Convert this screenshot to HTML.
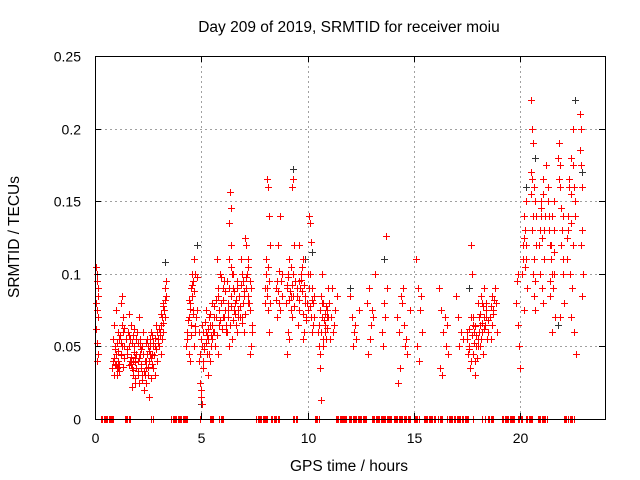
<!DOCTYPE html>
<html><head><meta charset="utf-8"><style>
body{margin:0;background:#fff;}
svg{display:block;font-family:"Liberation Sans",sans-serif;}
</style></head><body>
<svg id="chart" width="640" height="480" viewBox="0 0 640 480" xmlns="http://www.w3.org/2000/svg">
<rect width="640" height="480" fill="#fff"/>
<g id="grid"></g>
<g id="black"></g>
<g id="red"></g>
<g id="zero"></g>
<rect x="95.5" y="56.5" width="510" height="363" fill="none" stroke="#000" stroke-width="1"/>
<g id="ticks"></g>
<text x="349" y="32" font-size="15.5" text-anchor="middle">Day 209 of 2019, SRMTID for receiver moiu</text>
<text x="349" y="471" font-size="15.5" text-anchor="middle">GPS time / hours</text>
<text x="19" y="237" font-size="15.5" text-anchor="middle" transform="rotate(-90 19 237)">SRMTID / TECUs</text>
</svg>
<script>
const xTicks=[0,5,10,15,20];
const yTicks=[0,0.05,0.1,0.15,0.2,0.25];
const yTickLabels=["0","0.05","0.1","0.15","0.2","0.25"];
const redT=[.05,.08,.1,.12,.15,.06,.09,.13,.07,.11,.14,.1,
.8,.85,.9,.95,1.0,1.05,1.1,1.15,1.2,1.25,1.3,1.35,.9,1.0,1.1,1.2,1.3,.85,.95,1.05,1.15,1.25,1.35,1.0,1.1,1.2,
1.5,1.55,1.6,1.65,1.7,1.75,1.8,1.85,1.9,1.95,2.0,2.05,2.1,2.15,2.2,2.25,1.6,1.7,1.8,1.9,2.0,2.1,2.2,1.65,1.75,1.85,1.95,2.05,2.15,1.8,1.9,2.0,
2.3,2.35,2.4,2.45,2.5,2.55,2.6,2.65,2.7,2.75,2.8,2.85,2.9,2.95,2.4,2.5,2.6,2.7,2.8,2.9,2.35,2.55,2.75,2.45,2.65,
3.0,3.05,3.1,3.15,3.2,3.25,3.3,3.35,3.1,3.2,3.3,3.15,
4.3,4.35,4.4,4.45,4.5,4.55,4.6,4.65,4.7,4.75,4.4,4.5,4.6,4.7,4.45,4.55,4.65,
4.9,4.95,5.0,5.05,5.1,5.15,5.2,5.25,5.3,5.35,5.4,5.45,5.5,5.55,5.0,5.1,5.2,5.3,5.4,5.5,5.05,
5.6,5.7,5.8,5.9,6.0,6.1,5.65,5.75,5.85,5.95,6.05,6.15,5.8,6.0,
6.2,6.25,6.3,6.35,6.4,6.45,6.5,6.55,6.25,6.3,6.35,6.4,6.45,6.5,6.3,6.4,
6.6,6.7,6.8,6.9,7.0,7.1,7.2,7.3,7.4,6.65,6.75,6.85,6.95,7.05,7.15,7.25,7.35,6.7,6.9,7.1,7.3,7.0,7.2,
8.0,8.05,8.1,8.15,8.2,8.25,8.1,8.15,8.2,8.05,
8.5,8.6,8.7,8.8,8.55,8.65,8.75,
9.0,9.05,9.1,9.15,9.2,9.25,9.3,9.35,9.4,9.1,9.2,9.3,9.05,9.25,9.15,
9.5,9.6,9.7,9.8,9.9,10.0,9.55,9.65,9.75,9.85,9.95,9.6,9.8,
10.05,10.1,10.15,10.2,10.25,10.3,10.1,10.2,10.3,
10.5,10.55,10.6,10.65,10.7,10.75,10.8,10.85,10.9,10.95,10.6,10.7,10.8,10.9,10.65,10.75,
11.0,11.1,11.2,11.3,11.4,11.05,11.15,11.25,
12.0,12.1,12.2,12.3,12.4,12.15,12.25,
12.8,12.9,13.0,13.1,13.2,12.85,12.95,13.05,
13.5,13.6,13.7,13.75,13.55,13.65,
14.2,14.3,14.4,14.5,14.6,14.7,14.8,14.25,14.35,14.45,14.55,14.65,
15.1,15.2,15.3,15.4,15.15,15.25,15.35,
16.2,16.3,16.4,16.5,16.6,16.25,16.35,16.45,16.55,
17.0,17.1,17.2,17.3,17.15,
17.5,17.6,17.7,17.8,17.9,18.0,18.1,18.2,18.3,18.4,18.5,17.55,17.65,17.75,17.85,17.95,18.05,18.15,18.25,18.35,18.45,17.7,17.9,18.1,18.3,17.8,18.0,18.2,
18.6,18.7,18.8,18.9,18.65,18.75,18.85,
19.8,19.85,19.9,19.95,20.0,19.9,
20.1,20.15,20.2,20.25,20.3,20.35,20.2,20.3,
20.5,20.55,20.6,20.65,20.7,20.75,20.55,20.6,20.65,20.7,20.5,20.75,
20.9,21.0,21.1,21.2,20.95,21.05,21.15,21.0,21.1,
21.3,21.35,21.4,21.45,21.5,21.55,21.6,21.65,21.4,21.5,21.6,
21.8,21.85,21.9,21.95,22.0,22.05,21.9,22.0,
22.2,22.3,22.4,22.5,22.6,22.25,22.35,22.45,22.55,22.65,22.4,22.5,
22.8,22.85,22.9,22.95,22.85,22.9,
0.9,0.95,1.02,1.08,1.12,1.18,1.22,1.28,1.32,1.38,1.45,1.52,1.58,1.62,1.68,1.72,1.78,1.82,1.88,1.92,1.98,2.02,2.08,2.12,2.18,2.22,2.28,2.32,2.38,2.42,2.48,2.52,2.58,2.62,2.68,2.72,2.78,2.82,2.88,2.92,2.98,3.02,3.08,3.12,3.18,3.22,3.28,3.32,
4.32,4.38,4.42,4.48,4.52,4.58,4.62,4.68,4.72,4.78,4.82,4.88,4.92,4.98,5.02,5.08,5.12,5.18,5.22,5.28,5.32,5.38,5.42,5.48,5.52,5.58,5.62,5.68,5.72,5.78,5.82,5.88,5.92,5.98,6.02,6.08,6.12,6.18,6.22,6.28,6.32,6.38,6.42,6.48,6.52,6.58,6.62,6.68,6.72,6.78,6.82,6.88,6.92,6.98,7.02,7.08,7.12,7.18,7.22,7.28,7.32,7.38,
8.02,8.08,8.12,8.18,8.22,8.52,8.58,8.62,8.68,8.72,8.78,9.02,9.08,9.12,9.18,9.22,9.28,9.32,9.38,9.52,9.58,9.62,9.68,9.72,9.78,9.82,9.88,9.92,9.98,10.02,10.08,10.12,10.18,10.22,10.28,10.52,10.58,10.62,10.68,10.72,10.78,10.82,10.88,10.92,10.98,
17.52,17.58,17.62,17.68,17.72,17.78,17.82,17.88,17.92,17.98,18.02,18.08,18.12,18.18,18.22,18.28,18.32,18.38,18.42,18.48,18.62,18.68,18.72,18.78,
20.12,20.18,20.22,20.28,20.52,20.58,20.62,20.68,20.72,20.92,20.98,21.02,21.08,21.12,21.18,21.32,21.38,21.42,21.48,21.52,21.58,21.62,21.82,21.88,21.92,21.98,22.02,22.22,22.28,22.32,22.38,22.42,22.48,22.52,22.58,22.82,22.88,22.92];
const redV=[.105,.1,.095,.09,.085,.08,.075,.07,.062,.052,.045,.04,
.035,.04,.03,.05,.045,.035,.06,.055,.08,.085,.07,.05,.065,.037,.04,.045,.06,.055,.048,.03,.038,.065,.042,.075,.036,.052,
.045,.06,.05,.04,.065,.035,.03,.05,.025,.045,.04,.07,.055,.035,.03,.06,.072,.038,.04,.028,.033,.045,.05,.055,.022,.062,.035,.025,.048,.058,.042,.052,
.02,.03,.035,.045,.05,.04,.055,.06,.045,.035,.05,.065,.04,.055,.025,.03,.045,.058,.03,.06,.04,.015,.05,.055,.028,
.05,.06,.065,.07,.08,.075,.09,.085,.045,.06,.07,.055,
.05,.06,.07,.08,.09,.085,.095,.11,.1,.07,.045,.065,.075,.06,.04,.1,.05,
.04,.025,.015,.01,.035,.05,.06,.045,.055,.07,.065,.05,.08,.06,.02,.04,.075,.03,.04,.055,.065,
.06,.07,.085,.1,.09,.075,.05,.11,.065,.08,.095,.06,.045,.07,
.06,.08,.135,.156,.145,.1,.09,.075,.07,.11,.065,.085,.055,.1,.05,.12,
.08,.09,.07,.1,.085,.12,.11,.095,.06,.065,.075,.11,.095,.125,.1,.08,.05,.06,.07,.09,.045,.06,.08,
.08,.1,.165,.16,.14,.12,.09,.075,.06,.11,
.09,.12,.14,.1,.07,.08,.095,
.08,.09,.1,.11,.085,.16,.165,.12,.095,.06,.075,.1,.045,.07,.055,
.085,.095,.1,.11,.08,.075,.065,.09,.105,.06,.07,.12,.055,
.14,.135,.122,.09,.08,.07,.1,.06,.085,
.06,.05,.035,.013,.07,.08,.065,.055,.075,.09,.045,.1,.06,.07,.085,.05,
.08,.07,.06,.075,.085,.055,.09,.065,
.085,.07,.06,.055,.075,.05,.065,
.08,.09,.065,.07,.1,.045,.055,.075,
.06,.08,.126,.09,.05,.07,
.07,.06,.085,.09,.05,.045,.075,.025,.035,.08,.065,.055,
.11,.09,.075,.06,.05,.04,.085,
.09,.075,.06,.05,.045,.035,.03,.07,.065,
.085,.07,.06,.055,.05,
.06,.05,.12,.07,.04,.055,.065,.08,.09,.075,.06,.045,.035,.1,.06,.05,.07,.085,.045,.065,.055,.04,.03,.05,.07,.065,.08,.06,
.07,.085,.09,.06,.055,.075,.08,
.08,.095,.065,.05,.035,.1,
.1,.12,.14,.13,.11,.09,.075,.15,
.22,.2,.19,.16,.15,.12,.13,.1,.085,.075,.17,.14,
.12,.14,.165,.175,.1,.09,.13,.15,.08,
.16,.14,.12,.11,.1,.09,.13,.07,.085,.06,.15,
.18,.19,.16,.12,.1,.08,.07,.14,
.11,.16,.18,.2,.15,.13,.1,.09,.06,.045,.07,.12,
.21,.2,.16,.1,.12,.085,
.042,.038,.052,.047,.033,.058,.044,.05,.036,.063,.055,.048,.037,.058,.043,.052,.034,.046,.039,.055,.06,.03,.042,.05,.038,.027,.045,.033,.052,.04,.036,.047,.05,.042,.038,.052,.044,.056,.048,.06,.052,.062,.058,.072,.066,.078,.082,.095,
.055,.068,.082,.076,.058,.092,.072,.088,.064,.098,.075,.06,.045,.055,.05,.06,.048,.067,.052,.058,.062,.045,.072,.058,.065,.078,.07,.082,.058,.09,.075,.068,.098,.062,.082,.07,.088,.065,.095,.075,.09,.105,.078,.068,.088,.072,.082,.095,.07,.085,.078,.092,.066,.08,.088,.072,.098,.085,.105,.075,.09,.065,
.09,.085,.105,.095,.08,.082,.095,.088,.102,.075,.085,.092,.098,.082,.088,.105,.092,.085,.078,.09,.075,.082,.096,.088,.072,.092,.085,.068,.08,.1,.09,.078,.07,.082,.065,.065,.075,.06,.08,.055,.068,.072,.078,.063,.07,
.055,.062,.048,.07,.058,.045,.052,.064,.058,.042,.05,.06,.072,.055,.066,.078,.062,.07,.08,.068,.078,.065,.072,.082,
.11,.125,.105,.12,.155,.165,.14,.11,.095,.13,.145,.125,.155,.11,.14,.15,.13,.095,.12,.14,.115,.1,.165,.175,.145,.13,.11,.125,.14,.165,.155,.135,.175,.16,.14,.185,.175,.13];
const blackT=[9.3,22.6,5.0,4.8,20.7,22.9,13.6,21.8,3.3,10.2,17.6,12.0,9.9,20.3];
const blackV=[.172,.22,.01,.12,.18,.17,.11,.065,.108,.115,.09,.09,.11,.16];
const zeroStart=[.28,1.4,2.62,2.72,3.56,3.65,4.31,4.96,5.39,5.85,7.59,8.29,9.32,10.35,11.33,11.66,11.94,13.02,13.72,14.05,14.47,14.99,15.46,16.02,16.16,16.58,16.96,17.33,17.8,18.22,18.36,18.5,19.16,19.39,19.91,20.28,20.84,22.06,22.34];
const zeroEnd=[.84,1.64,2.62,2.72,3.56,4.26,4.31,4.96,5.57,6.04,8.1,8.67,9.51,10.54,11.62,11.8,12.74,13.63,13.91,14.38,14.8,15.27,15.97,16.02,16.35,16.91,17.33,17.56,17.8,18.22,18.36,18.74,19.34,19.72,20.09,20.56,21.26,22.25,22.53];

const X0=95,X1=605,Y0=419,Y1=56;
const xs=h=>X0+(h/24)*(X1-X0);
const ys=v=>Y0-(v/0.25)*(Y0-Y1);
const NS="http://www.w3.org/2000/svg";
function mk(tag,attrs,parent){const e=document.createElementNS(NS,tag);for(const k in attrs)e.setAttribute(k,attrs[k]);parent.appendChild(e);return e;}
const grid=document.getElementById('grid'),ticks=document.getElementById('ticks'),svg=document.getElementById('chart');
xTicks.forEach((t,i)=>{
  const x=Math.round(xs(t))+0.5;
  if(t>0){const g=mk('line',{x1:x,x2:x,y1:Y1,y2:Y0,stroke:'#a0a0a0','stroke-dasharray':'2,3'},grid);
  
  }
  mk('line',{x1:x,x2:x,y1:Y0,y2:Y0-6,stroke:'#000'},ticks);
  mk('line',{x1:x,x2:x,y1:Y1,y2:Y1+6,stroke:'#000'},ticks);
  const l=mk('text',{x:x,y:443,'font-size':14,'text-anchor':'middle'},svg);
  l.textContent=String(t);
  
  
});
yTicks.forEach((v,i)=>{
  const y=Math.round(ys(v))+0.5;
  if(v>0&&v<0.25){const g=mk('line',{x1:X0,x2:X1,y1:y,y2:y,stroke:'#a0a0a0','stroke-dasharray':'2,3'},grid);
  
  }
  mk('line',{x1:X0,x2:X0+6,y1:y,y2:y,stroke:'#000'},ticks);
  mk('line',{x1:X1,x2:X1-6,y1:y,y2:y,stroke:'#000'},ticks);
  const l=mk('text',{x:81,y:y+5,'font-size':14,'text-anchor':'end'},svg);
  l.textContent=yTickLabels[i];
  
  
});
function plus(g,h,v,color){
  const x=Math.round(xs(h))+0.5,y=Math.round(ys(v))+0.5;
  const p=mk('path',{d:`M${x-3.5},${y}H${x+3.5}M${x},${y-3.5}V${y+3.5}`,stroke:color,'stroke-width':1,fill:'none'},g);
  
  
}
const bg=document.getElementById('black'),rg=document.getElementById('red'),zg=document.getElementById('zero');
blackT.forEach((t,i)=>plus(bg,t,blackV[i],'#333'));
redT.forEach((t,i)=>plus(rg,t,redV[i],'#f00'));
zeroStart.forEach((s,i)=>{
  for(let h=s;h<=zeroEnd[i]+1e-9;h+=0.06){plus(zg,h,0,'#f00');}
  plus(zg,zeroEnd[i],0,'#f00');
});
</script>
</body></html>
